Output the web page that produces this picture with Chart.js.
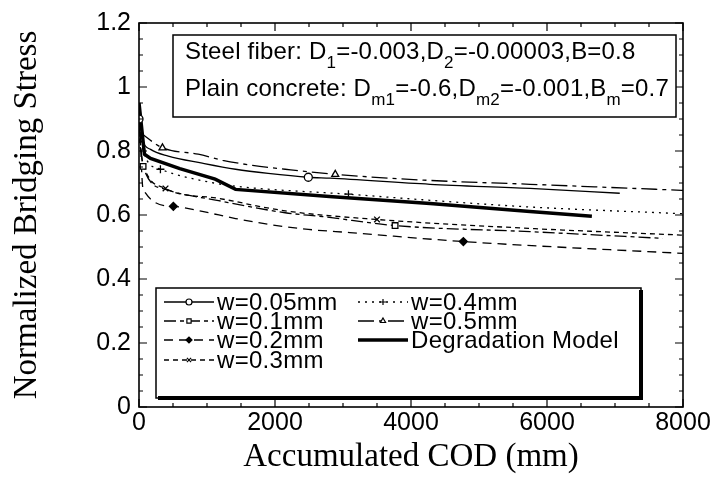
<!DOCTYPE html>
<html>
<head>
<meta charset="utf-8">
<script src="https://cdn.jsdelivr.net/npm/chart.js@4.4.1/dist/chart.umd.min.js"></script>
<style>
  html, body { margin: 0; padding: 0; background: #fff; }
  #wrap { width: 713px; height: 477px; }
</style>
</head>
<body>
<div id="wrap"><canvas id="codChart" width="713" height="477"></canvas></div>
<script>
// accumulated COD (mm) and normalized bridging stress
const codW005 = [0, 60, 170, 430, 930, 1420, 1900, 2490, 2810, 4280, 5750, 7070];
const stressW005 = [0.90, 0.83, 0.805, 0.784, 0.762, 0.743, 0.730, 0.718, 0.715, 0.696, 0.683, 0.668];
const marksW005 = [0, 2490];

const codW01 = [0, 60, 390, 1170, 2150, 2700, 3766, 5750, 7700];
const stressW01 = [0.88, 0.752, 0.68, 0.645, 0.607, 0.595, 0.567, 0.548, 0.527];
const marksW01 = [60, 3766];

const codW02 = [0, 60, 505, 930, 1420, 1900, 2490, 3100, 4770, 8000];
const stressW02 = [0.95, 0.68, 0.627, 0.611, 0.589, 0.571, 0.555, 0.545, 0.517, 0.48];
const marksW02 = [505, 4770];

const codW03 = [0, 60, 390, 1170, 2150, 3500, 5750, 8000];
const stressW03 = [0.84, 0.76, 0.683, 0.652, 0.613, 0.586, 0.558, 0.537];
const marksW03 = [390, 3500];

const codW04 = [0, 60, 315, 1100, 1500, 3080, 4280, 5750, 8000];
const stressW04 = [0.92, 0.80, 0.743, 0.70, 0.688, 0.665, 0.646, 0.625, 0.604];
const marksW04 = [315, 3080];

const codW05 = [0, 345, 870, 1230, 1670, 2150, 2886, 4280, 5750, 8000];
const stressW05 = [0.86, 0.81, 0.79, 0.771, 0.755, 0.743, 0.727, 0.708, 0.696, 0.677];
const marksW05 = [345, 2886];

const codModel = [0, 80, 170, 600, 1120, 1420, 2850, 4280, 5750, 6660];
const stressModel = [0.95, 0.79, 0.777, 0.745, 0.712, 0.680, 0.657, 0.636, 0.611, 0.596];

const xTicks = [0, 2000, 4000, 6000, 8000];
const yTicks = [0, 0.2, 0.4, 0.6, 0.8, 1, 1.2];

const noteLines = [
    [['Steel fiber: D'], ['1', 1], ['=-0.003,D'], ['2', 1], ['=-0.00003,B=0.8']],
    [['Plain concrete: D'], ['m1', 1], ['=-0.6,D'], ['m2', 1], ['=-0.001,B'], ['m', 1], ['=0.7']]
];

const SANS = '"Liberation Sans", Arial, Helvetica, sans-serif';
const SERIF = '"Liberation Serif", "Times New Roman", serif';
Chart.defaults.color = '#000';
Chart.defaults.font.family = SANS;

function series(label, cods, vals, marks, style) {
    return Object.assign({
        label: label,
        data: cods.map((c, i) => ({ x: c, y: vals[i] })),
        borderColor: '#000',
        borderWidth: 1.3,
        pointBorderColor: '#000',
        pointBackgroundColor: '#fff',
        pointBorderWidth: 1.3,
        pointRadius: ctx => marks.includes(cods[ctx.dataIndex]) ? 4 : 0,
        pointHoverRadius: 0,
        cubicInterpolationMode: 'monotone',
        fill: false
    }, style);
}

const datasets = [
    series('w=0.05mm', codW005, stressW005, marksW005, { pointStyle: 'circle', borderDash: [] }),
    series('w=0.1mm', codW01, stressW01, marksW01, { pointStyle: 'rect', borderDash: [12, 4, 4, 4] }),
    series('w=0.2mm', codW02, stressW02, marksW02, { pointStyle: 'rectRot', pointBackgroundColor: '#000', borderDash: [9, 6] }),
    series('w=0.3mm', codW03, stressW03, marksW03, { pointStyle: 'crossRot', borderDash: [5, 4] }),
    series('w=0.4mm', codW04, stressW04, marksW04, { pointStyle: 'cross', borderDash: [2, 5] }),
    series('w=0.5mm', codW05, stressW05, marksW05, { pointStyle: 'triangle', borderDash: [16, 5, 4, 5] }),
    series('Degradation Model', codModel, stressModel, [], { borderWidth: 3.5, borderDash: [], cubicInterpolationMode: 'default', tension: 0 })
];

// box, inward ticks on all four sides
const framePlugin = {
    id: 'frame',
    afterDatasetsDraw(chart) {
        const ctx = chart.ctx;
        const ca = chart.chartArea;
        const xs = chart.scales.x, ys = chart.scales.y;
        ctx.save();
        ctx.strokeStyle = '#000';
        ctx.setLineDash([]);
        ctx.lineWidth = 1.6;
        ctx.strokeRect(ca.left, ca.top, ca.right - ca.left, ca.bottom - ca.top);
        ctx.lineWidth = 1.2;
        ctx.beginPath();
        for (let v = 0; v <= 8000; v += 500) {
            const px = xs.getPixelForValue(v);
            const len = v % 2000 === 0 ? 8 : 4;
            ctx.moveTo(px, ca.bottom); ctx.lineTo(px, ca.bottom - len);
            ctx.moveTo(px, ca.top); ctx.lineTo(px, ca.top + len);
        }
        for (let i = 0; i <= 24; i++) {
            const py = ys.getPixelForValue(i * 0.05);
            const len = i % 4 === 0 ? 8 : 4;
            ctx.moveTo(ca.left, py); ctx.lineTo(ca.left + len, py);
            ctx.moveTo(ca.right, py); ctx.lineTo(ca.right - len, py);
        }
        ctx.stroke();
        ctx.restore();
    }
};

// parameter box at the top
const notePlugin = {
    id: 'note',
    afterDatasetsDraw(chart) {
        const ctx = chart.ctx;
        const ca = chart.chartArea;
        const left = ca.left + 34, top = ca.top + 12;
        const w = ca.right - 7 - left, h = 82;
        ctx.save();
        ctx.fillStyle = '#fff';
        ctx.fillRect(left, top, w, h);
        ctx.strokeStyle = '#000';
        ctx.lineWidth = 1.5;
        ctx.strokeRect(left, top, w, h);
        ctx.fillStyle = '#000';
        ctx.textBaseline = 'alphabetic';
        ctx.letterSpacing = '0.2px';
        noteLines.forEach((parts, row) => {
            let x = left + 12;
            const base = top + 24 + row * 37;
            parts.forEach(([t, sub]) => {
                ctx.font = sub ? '17px ' + SANS : '24px ' + SANS;
                ctx.fillText(t, x, sub ? base + 9 : base);
                x += ctx.measureText(t).width;
            });
        });
        ctx.restore();
    }
};

// legend box in the lower part of the plot
const legendPlugin = {
    id: 'boxLegend',
    afterDatasetsDraw(chart) {
        const ctx = chart.ctx;
        const ca = chart.chartArea;
        const left = ca.left + 17, top = ca.top + 265;
        const right = ca.left + 502, bottom = ca.bottom - 9;
        ctx.save();
        ctx.fillStyle = '#fff';
        ctx.fillRect(left, top, right - left, bottom - top);
        ctx.strokeStyle = '#000';
        ctx.lineWidth = 1.5;
        ctx.strokeRect(left, top, right - left, bottom - top);
        ctx.lineWidth = 4;
        ctx.beginPath();
        ctx.moveTo(left + 2, bottom); ctx.lineTo(right, bottom); ctx.lineTo(right, top + 2);
        ctx.stroke();

        const cols = [left + 8, left + 202];
        const rows = [14, 33, 52, 72];
        chart.data.datasets.forEach((ds, i) => {
            const col = i < 4 ? 0 : 1;
            const row = i < 4 ? i : i - 4;
            const x0 = cols[col], x1 = x0 + 50, y = top + rows[row];
            ctx.strokeStyle = '#000';
            ctx.lineWidth = ds.borderWidth;
            ctx.setLineDash(ds.borderDash || []);
            ctx.beginPath();
            ctx.moveTo(x0, y); ctx.lineTo(x1, y);
            ctx.stroke();
            ctx.setLineDash([]);
            if (ds.pointStyle) {
                ctx.fillStyle = ds.pointBackgroundColor;
                ctx.lineWidth = 1.2;
                Chart.helpers.drawPoint(ctx, { pointStyle: ds.pointStyle, radius: 3, borderWidth: 1.2, rotation: 0 }, (x0 + x1) / 2, y);
            }
            ctx.fillStyle = '#000';
            ctx.font = '24px ' + SANS;
            ctx.letterSpacing = '0.3px';
            ctx.textBaseline = 'middle';
            ctx.fillText(ds.label, x1 + 3, y + 1);
            ctx.letterSpacing = '0px';
        });
        ctx.restore();
    }
};

new Chart(document.getElementById('codChart'), {
    type: 'line',
    data: { datasets: datasets },
    options: {
        responsive: false,
        animation: false,
        events: [],
        layout: { padding: { top: 23, right: 30, left: 0, bottom: 0 } },
        plugins: { legend: { display: false }, tooltip: { enabled: false } },
        scales: {
            x: {
                type: 'linear',
                min: 0,
                max: 8000,
                afterBuildTicks: s => { s.ticks = xTicks.map(v => ({ value: v })); },
                ticks: { font: { size: 25 }, padding: 1, maxRotation: 0, callback: v => String(v) },
                grid: { display: false, drawTicks: false },
                border: { display: false },
                title: { display: true, text: 'Accumulated COD (mm)', font: { family: SERIF, size: 33 }, padding: 0 },
                afterFit: s => { s.height = 70; }
            },
            y: {
                min: 0,
                max: 1.2,
                afterBuildTicks: s => { s.ticks = yTicks.map(v => ({ value: v })); },
                ticks: { font: { size: 25 }, padding: 8, callback: v => String(v) },
                grid: { display: false, drawTicks: false },
                border: { display: false },
                title: { display: true, text: 'Normalized Bridging Stress', font: { family: SERIF, size: 33 }, padding: { top: 8, bottom: 0 } },
                afterFit: s => { s.width = 139; }
            }
        }
    },
    plugins: [framePlugin, notePlugin, legendPlugin]
});
</script>
</body>
</html>
